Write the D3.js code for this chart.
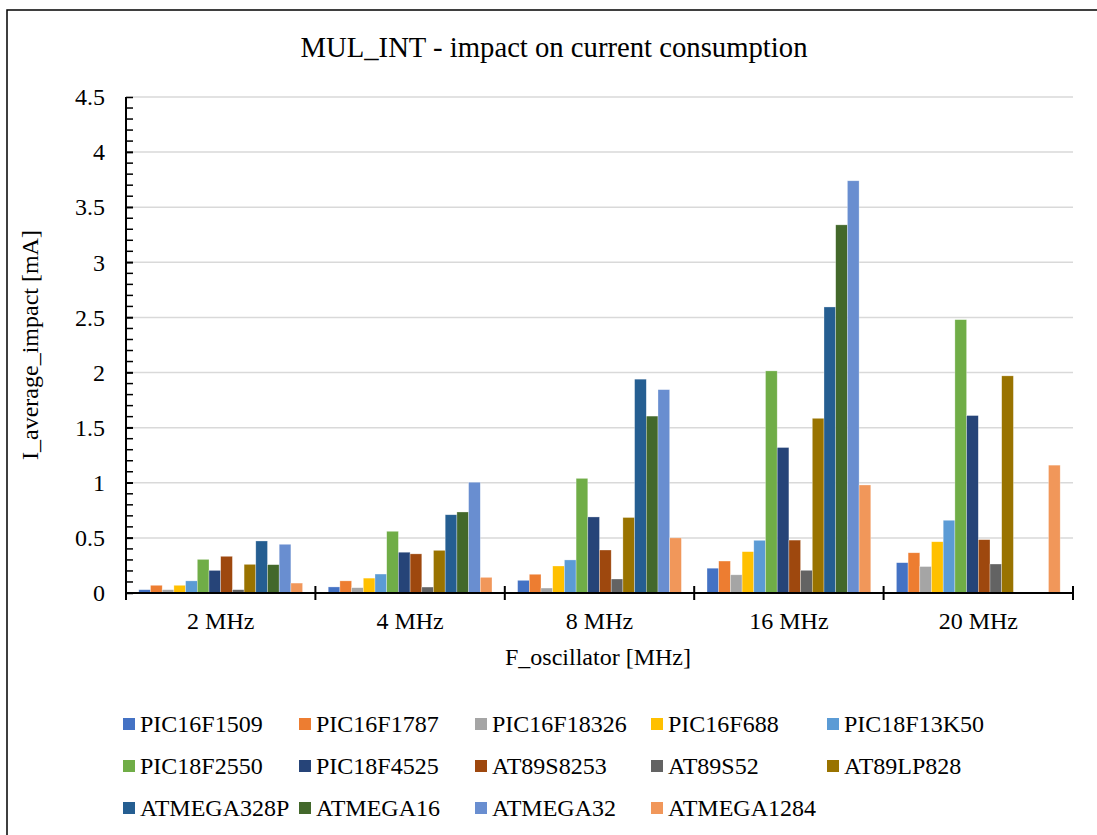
<!DOCTYPE html>
<html>
<head>
<meta charset="utf-8">
<script src="https://cdn.jsdelivr.net/npm/d3@7"></script>
<style>
  body { margin: 0; background: #fff; }
</style>
</head>
<body>
<svg id="chart" width="1097" height="835" style="font-family: 'Liberation Serif', 'DejaVu Serif', serif;"></svg>
<script>
const CATEGORIES = ["2 MHz", "4 MHz", "8 MHz", "16 MHz", "20 MHz"];
const SERIES_NAMES = [
    "PIC16F1509", "PIC16F1787", "PIC16F18326", "PIC16F688", "PIC18F13K50",
    "PIC18F2550", "PIC18F4525", "AT89S8253", "AT89S52", "AT89LP828",
    "ATMEGA328P", "ATMEGA16", "ATMEGA32", "ATMEGA1284",
];
const SERIES_COLORS = [
    "#4472C4", "#ED7D31", "#A5A5A5", "#FFC000", "#5B9BD5",
    "#70AD47", "#264478", "#9E480E", "#636363", "#997300",
    "#255E91", "#43682B", "#698ED0", "#F1975A",
];
// one row per series, one value per frequency (null = not measured)
const VALUES = [
    [0.03, 0.055, 0.115, 0.225, 0.275],
    [0.07, 0.11, 0.17, 0.29, 0.365],
    [0.03, 0.048, 0.045, 0.165, 0.24],
    [0.07, 0.135, 0.245, 0.375, 0.465],
    [0.11, 0.172, 0.30, 0.478, 0.66],
    [0.305, 0.56, 1.04, 2.015, 2.48],
    [0.205, 0.37, 0.69, 1.32, 1.61],
    [0.333, 0.355, 0.39, 0.48, 0.484],
    [0.03, 0.054, 0.127, 0.206, 0.263],
    [0.26, 0.387, 0.685, 1.585, 1.97],
    [0.472, 0.71, 1.94, 2.595, null],
    [0.257, 0.735, 1.605, 3.34, null],
    [0.442, 1.005, 1.845, 3.74, null],
    [0.09, 0.142, 0.50, 0.98, 1.16],
];
const Y_TICKS = [0, 0.5, 1, 1.5, 2, 2.5, 3, 3.5, 4, 4.5];

const FONT = "'Liberation Serif', 'DejaVu Serif', serif";
const svg = d3.select("#chart");
const plot = { left: 126, right: 1073, top: 97, bottom: 593 };

// outer frame (continues past the picture on the right and bottom)
svg.append("rect")
    .attr("x", 7).attr("y", 10)
    .attr("width", 1200).attr("height", 1000)
    .attr("fill", "none").attr("stroke", "#000").attr("stroke-width", 1.5);

svg.append("text")
    .attr("x", 554).attr("y", 57)
    .attr("text-anchor", "middle")
    .style("font-family", FONT)
    .style("font-size", "28.7px")
    .text("MUL_INT - impact on current consumption");

const x0 = d3.scaleBand().domain(CATEGORIES).range([plot.left, plot.right]);
const x1 = d3.scaleBand().domain(d3.range(SERIES_NAMES.length))
    .range([0, x0.bandwidth()]).paddingInner(0).paddingOuter(1.095);
const y = d3.scaleLinear().domain([0, 4.5]).range([plot.bottom, plot.top]);

// gridlines
svg.append("g").selectAll("line")
    .data(Y_TICKS.filter(d => d > 0))
    .enter().append("line")
    .attr("x1", plot.left).attr("x2", plot.right)
    .attr("y1", d => y(d)).attr("y2", d => y(d))
    .attr("stroke", "#d9d9d9").attr("stroke-width", 1.5);

// bars
const groups = svg.append("g").selectAll("g")
    .data(SERIES_NAMES)
    .enter().append("g")
    .attr("fill", (d, i) => SERIES_COLORS[i]);

groups.selectAll("rect")
    .data((d, i) => VALUES[i].map((v, j) => ({ s: i, cat: CATEGORIES[j], v: v })).filter(e => e.v !== null))
    .enter().append("rect")
    .attr("x", d => x0(d.cat) + x1(d.s))
    .attr("width", x1.bandwidth())
    .attr("y", d => y(d.v))
    .attr("height", d => y(0) - y(d.v))
    .attr("stroke", "#fff").attr("stroke-opacity", 0.5).attr("stroke-width", 0.6);

// y axis: major ticks crossing, minor ticks inside
const yAxis = svg.append("g")
    .attr("transform", `translate(${plot.left},0)`)
    .call(d3.axisLeft(y).tickValues(Y_TICKS).tickSize(7).tickPadding(14)
        .tickFormat(d => d3.format("")(d)));
yAxis.attr("font-family", null);
yAxis.selectAll(".tick line").attr("x2", 7).attr("stroke-width", 1.5);
yAxis.select(".domain").remove();
yAxis.selectAll("text").style("font-family", FONT).style("font-size", "24px");
yAxis.append("g").selectAll("line")
    .data(d3.range(1, 45).map(i => i / 10))
    .enter().append("line")
    .attr("x1", 0).attr("x2", 7)
    .attr("y1", d => y(d)).attr("y2", d => y(d))
    .attr("stroke", "#000").attr("stroke-width", 1.5);
yAxis.append("line")
    .attr("x1", 0).attr("x2", 0)
    .attr("y1", y(0)).attr("y2", y(4.5))
    .attr("stroke", "#000").attr("stroke-width", 2);

// x axis
const xAxis = svg.append("g")
    .attr("transform", `translate(0,${plot.bottom})`)
    .call(d3.axisBottom(x0).tickSize(0).tickPadding(19));
xAxis.attr("font-family", null);
xAxis.select(".domain").remove();
xAxis.selectAll("text").style("font-family", FONT).style("font-size", "24px");
xAxis.append("line")
    .attr("x1", plot.left).attr("x2", plot.right)
    .attr("stroke", "#000").attr("stroke-width", 2);
xAxis.append("g").selectAll("line")
    .data(CATEGORIES.map(c => x0(c)).concat([plot.right]))
    .enter().append("line")
    .attr("x1", d => d).attr("x2", d => d)
    .attr("y1", -7).attr("y2", 7)
    .attr("stroke", "#000").attr("stroke-width", 2);

// axis titles
svg.append("text")
    .attr("x", 598).attr("y", 665)
    .attr("text-anchor", "middle")
    .style("font-family", FONT)
    .style("font-size", "24px")
    .text("F_oscillator [MHz]");
svg.append("text")
    .attr("transform", "translate(38,345) rotate(-90)")
    .attr("text-anchor", "middle")
    .style("font-family", FONT)
    .style("font-size", "24px")
    .text("I_average_impact [mA]");

// legend: 5 columns, 3 rows
const legend = svg.append("g").selectAll("g")
    .data(SERIES_NAMES)
    .enter().append("g")
    .attr("transform", (d, i) => `translate(${123 + (i % 5) * 176},${724 + Math.floor(i / 5) * 42})`);
legend.append("rect")
    .attr("x", 0).attr("y", -6)
    .attr("width", 12).attr("height", 12)
    .attr("fill", (d, i) => SERIES_COLORS[i]);
legend.append("text")
    .attr("x", 17).attr("y", 0)
    .attr("dy", "0.35em")
    .style("font-family", FONT)
    .style("font-size", "24px")
    .text(d => d);
</script>
</body>
</html>
